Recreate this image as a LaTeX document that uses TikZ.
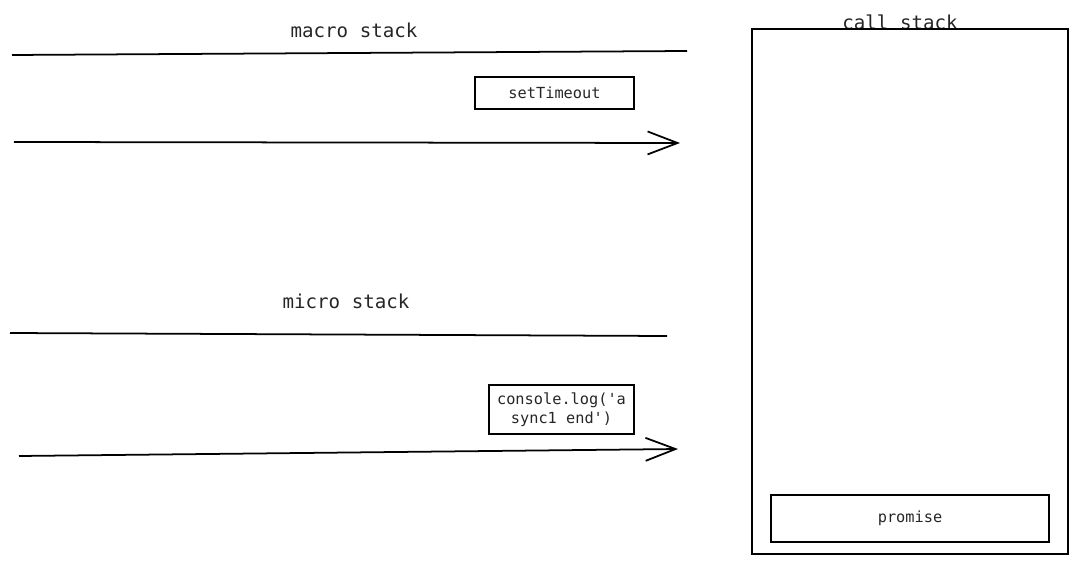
\documentclass[tikz,border=0pt]{standalone}
\usepackage{fontspec}
\setmonofont{DejaVu Sans Mono}
\usetikzlibrary{arrows.meta}
\tikzstyle{titletext} = [font=\ttfamily\fontsize{10.9}{13}\selectfont, text=black!85, inner sep=0pt]
\tikzstyle{codebox} = [rectangle, draw=black, line width=0.9pt, align=center, inner sep=0pt, font=\ttfamily\fontsize{8.7}{10.8}\selectfont, text=black!85]
\tikzstyle{line} = [line width=1pt]
\tikzstyle{arrow} = [line width=1pt, -{Straight Barb[length=0.6cm, width=0.46cm, line width=1pt]}]

\begin{document}
\begin{tikzpicture}[x=0.02cm, y=-0.02cm]
	\useasboundingbox (0,0) rectangle (1077,564);
	% macro task queue
	\node(macro_title) [titletext] at (354,30) {macro stack};
	\coordinate (macro_start) at (12,55);
	\coordinate (macro_end) at (687,51);
	\node(set_timeout) [codebox, minimum width=3.18cm, minimum height=0.64cm] at (554.5,93) {setTimeout};
	\coordinate (macro_arrow_start) at (14,142);
	\coordinate (macro_arrow_end) at (680,143);
	
	% micro task queue
	\node(micro_title) [titletext] at (346,301) {micro stack};
	\coordinate (micro_start) at (10,333);
	\coordinate (micro_end) at (667,336);
	\node(console_log) [codebox, minimum width=2.9cm, minimum height=0.98cm] at (561.5,409.5) {console.log('a\\sync1 end')};
	\coordinate (micro_arrow_start) at (19,456);
	\coordinate (micro_arrow_end) at (678,449);
	
	% call stack
	\node(call_title) [titletext, anchor=base] at (900,29.5) {call stack};
	\node(call_stack) [codebox, minimum width=6.32cm, minimum height=10.5cm] at (910,291.5) {};
	\node(promise) [codebox, minimum width=5.56cm, minimum height=0.94cm] at (910,518.5) {promise};
	
	\draw[line] (macro_start) -- (macro_end);
	\draw[arrow] (macro_arrow_start) -- (macro_arrow_end);
	\draw[line] (micro_start) -- (micro_end);
	\draw[arrow] (micro_arrow_start) -- (micro_arrow_end);
\end{tikzpicture}
\end{document}
